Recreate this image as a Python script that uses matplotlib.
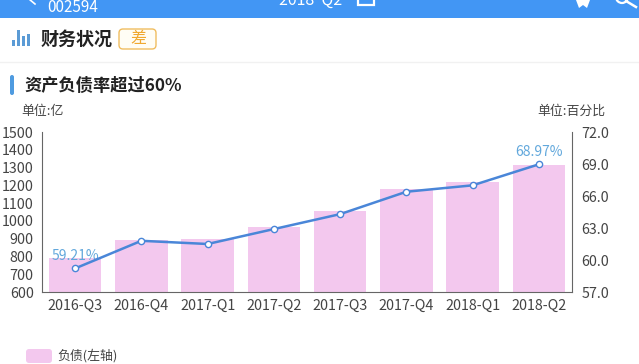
import matplotlib
matplotlib.use("Agg")
import matplotlib.pyplot as plt
from matplotlib.patches import FancyBboxPatch, Rectangle, Circle

plt.rcParams["font.family"] = ["Noto Sans CJK SC", "DejaVu Sans"]

quarters = ["2016-Q3", "2016-Q4", "2017-Q1", "2017-Q2", "2017-Q3", "2017-Q4", "2018-Q1", "2018-Q2"]
debt = [790, 895, 900, 965, 1055, 1180, 1220, 1315]
ratio = [59.21, 61.8, 61.5, 62.9, 64.3, 66.4, 67.0, 68.97]
left_ticks = [600, 700, 800, 900, 1000, 1100, 1200, 1300, 1400, 1500]
right_ticks = [57.0, 60.0, 63.0, 66.0, 69.0, 72.0]
icon_bars = [(12, 6), (17, 16), (22, 10), (27, 12)]

W, H = 639, 364
BLUE = "#4296f4"
TEXT = "#444444"

fig = plt.figure(figsize=(W / 100, H / 100), dpi=100)

# page furniture, drawn in pixel coordinates
bg = fig.add_axes([0, 0, 1, 1])
bg.set_xlim(0, W)
bg.set_ylim(H, 0)
bg.axis("off")
bg.add_patch(Rectangle((0, 0), W, 17.5, color=BLUE, lw=0))
bg.text(47, 7.5, "002594", color="white", fontsize=11, va="center")
bg.text(279, 0, "2018  Q2", color="white", fontsize=11.5, va="center", clip_on=True)
bg.plot([29, 35], [-1, 4], color="white", lw=1.2, clip_on=True)
bg.add_patch(Rectangle((358, -3), 16, 8, fill=False, ec="white", lw=1.6))
bg.fill([576, 590, 587, 583, 579], [0, 0, 8, 5, 8], color="white", lw=0)
bg.add_patch(Circle((622, -3), 6, fill=False, ec="white", lw=1.6))
bg.plot([626, 636], [1, 7], color="white", lw=1.8)
bg.plot([0, W], [62, 62], color="#f1f1f1", lw=1)

for x, h in icon_bars:
    bg.add_patch(Rectangle((x, 46 - h), 3, h, color="#5b9bd5", lw=0))
bg.text(41, 39, "财务状况", color="#222222", fontsize=13, fontweight="bold", va="center")
bg.add_patch(FancyBboxPatch((119, 29), 37, 20, boxstyle="round,pad=0,rounding_size=4",
                            fc="#fffdf5", ec="#f0bd60", lw=1))
bg.text(138, 39, "差", color="#f0a830", fontsize=11.5, ha="center", va="center")

bg.add_patch(FancyBboxPatch((10, 75), 4, 20, boxstyle="round,pad=0,rounding_size=2",
                            fc="#4f9be0", ec="none"))
bg.text(24, 86, "资产负债率超过60%", color="#222222", fontsize=12.4, fontweight="bold", va="center")
bg.text(21, 111, "单位:亿", color=TEXT, fontsize=9.3, va="center")
bg.text(605, 111, "单位:百分比", color=TEXT, fontsize=9.3, va="center", ha="right")

# legend swatch
bg.add_patch(FancyBboxPatch((26, 349), 26, 14, boxstyle="round,pad=0,rounding_size=3",
                            fc="#f3c8ee", ec="none"))
bg.text(57, 356, "负债(左轴)", color=TEXT, fontsize=9.3, va="center")

# chart
ax = fig.add_axes([42 / W, 1 - 292 / H, 530 / W, 160 / H])
ax.patch.set_alpha(0)
x = list(range(len(quarters)))
ax.bar(x, debt, width=0.79, color="#f3c8ee", zorder=2)
ax.set_xlim(-0.5, 7.5)
ax.set_ylim(600, 1500)
ax.set_xticks(x, quarters)
ax.set_yticks(left_ticks)
ax.tick_params(axis="x", length=0, labelsize=10.3, labelcolor=TEXT, pad=5)
ax.tick_params(axis="y", length=0, labelsize=10.3, labelcolor=TEXT, pad=6)
ax.spines["top"].set_visible(False)
ax.spines["right"].set_visible(False)
ax.spines["left"].set_color("#666666")
ax.spines["bottom"].set_color("#666666")

ax2 = ax.twinx()
ax2.plot(x, ratio, color="#4a86d8", lw=1.8, marker="o", ms=4.5,
         mfc="white", mec="#4a86d8", mew=1, zorder=5)
ax2.set_ylim(57, 72)
ax2.set_yticks(right_ticks, [f"{v:.1f}" for v in right_ticks])
ax2.tick_params(axis="y", length=0, labelsize=10.3, labelcolor=TEXT, pad=7)
for s in ["top", "left", "bottom"]:
    ax2.spines[s].set_visible(False)
ax2.spines["right"].set_color("#666666")

for i in [0, len(x) - 1]:
    ax2.annotate(f"{ratio[i]:.2f}%", (x[i], ratio[i]), xytext=(0, 6),
                 textcoords="offset points", ha="center", color="#62a8dc", fontsize=10)

fig.savefig("out.png", dpi=100)
